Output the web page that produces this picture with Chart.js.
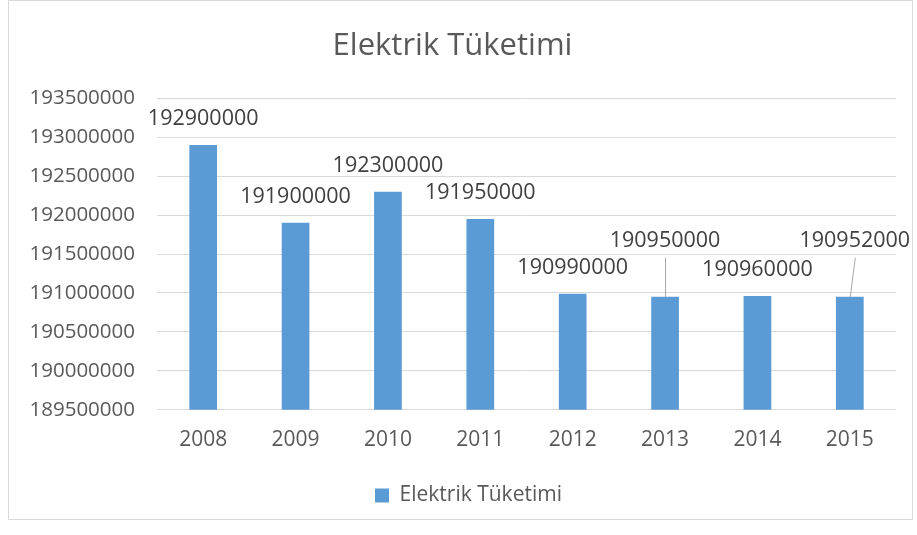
<!DOCTYPE html>
<html>
<head>
<meta charset="utf-8">
<script src="https://cdn.jsdelivr.net/npm/chart.js@4"></script>
<style>
  body { margin: 0; background: #fff; }
  #wrap {
    position: absolute; left: 8px; top: 0; width: 905px; height: 520px;
    border: 1px solid #d9d9d9; box-sizing: border-box;
  }
</style>
</head>
<body>
<div id="wrap"><canvas id="barChart"></canvas></div>
<script>
const years = ['2008', '2009', '2010', '2011', '2012', '2013', '2014', '2015'];
const consumption = [192900000, 191900000, 192300000, 191950000, 190990000, 190950000, 190960000, 190952000];
const seriesName = 'Elektrik Tüketimi';
const yMin = 189500000;
const yMax = 193500000;
const yStep = 500000;

const FONT = "'Open Sans', Lato, sans-serif";

// draws value labels above bars; some get pushed up with a leader line (like Excel)
const valueLabels = {
  id: 'valueLabels',
  afterLayout(chart, args, opts) {
    // excel puts the legend a bit right of centre
    chart.legend.left += opts.legendShift;
    chart.legend.right += opts.legendShift;
  },
  afterDatasetsDraw(chart, args, opts) {
    const ctx = chart.ctx;
    const meta = chart.getDatasetMeta(0);
    ctx.save();
    ctx.font = `21.5px ${FONT}`;
    ctx.fillStyle = '#404040';
    ctx.textAlign = 'center';
    ctx.textBaseline = 'middle';
    meta.data.forEach((bar, i) => {
      const v = chart.data.datasets[0].data[i];
      const lead = opts.leaders[i];
      let x = bar.x, y = bar.y - opts.lift;
      if (lead) {
        x = bar.x + lead.dx;
        y = bar.y - lead.lift;
        ctx.strokeStyle = '#a6a6a6';
        ctx.lineWidth = 1;
        ctx.beginPath();
        ctx.moveTo(x + 0.5, y + 17);
        ctx.lineTo(bar.x + 0.5, bar.y);
        ctx.stroke();
      }
      ctx.fillText(String(v), x, y);
    });
    ctx.restore();
  }
};

new Chart(document.getElementById('barChart').getContext('2d'), {
  type: 'bar',
  data: {
    labels: years,
    datasets: [{
      label: seriesName,
      data: consumption,
      backgroundColor: '#5b9bd5',
      barPercentage: 0.3,
      categoryPercentage: 1
    }]
  },
  options: {
    responsive: true,
    maintainAspectRatio: false,
    animation: false,
    layout: { padding: { left: 0, right: 16, top: 0, bottom: 3 } },
    scales: {
      x: {
        grid: { display: false, drawTicks: false },
        border: { display: false },
        ticks: { color: '#595959', font: { family: FONT, size: 21 }, padding: 18 }
      },
      y: {
        min: yMin,
        max: yMax,
        grid: { color: '#d9d9d9', drawTicks: false },
        border: { display: false },
        ticks: {
          stepSize: yStep,
          color: '#595959',
          font: { family: FONT, size: 20.5 },
          padding: 22,
          callback: (v) => String(v)
        },
        afterFit: (s) => { s.width = 148; }
      }
    },
    plugins: {
      title: {
        display: true,
        text: seriesName,
        color: '#595959',
        font: { family: FONT, size: 31, weight: 'normal' },
        padding: { top: 27, bottom: 33 }
      },
      legend: {
        position: 'bottom',
        labels: {
          color: '#595959',
          font: { family: FONT, size: 21 },
          boxWidth: 14,
          boxHeight: 14,
          padding: 14
        }
      },
      tooltip: { enabled: false },
      valueLabels: {
        lift: 26,
        legendShift: 16,
        leaders: { 5: { dx: 0, lift: 56 }, 7: { dx: 5, lift: 56 } }
      }
    }
  },
  plugins: [valueLabels]
});
</script>
</body>
</html>
